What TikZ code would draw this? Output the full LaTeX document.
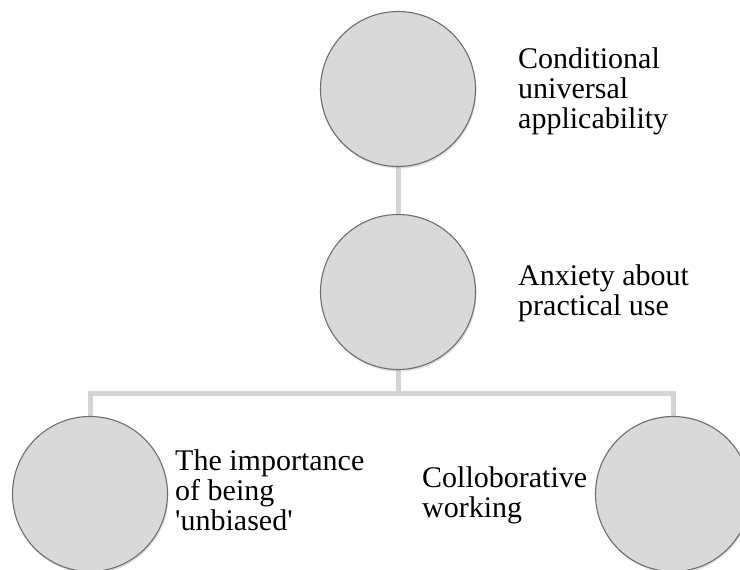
\documentclass[tikz,border=0pt]{standalone}
\usepackage{fontspec}
\setmainfont{Liberation Serif}[Ligatures=TeXOff]
\usetikzlibrary{shadows,backgrounds}
\definecolor{bubblefill}{HTML}{D9D9D9}
\definecolor{bubbleline}{HTML}{6E6E6E}
\definecolor{linkgray}{HTML}{D4D4D4}
\begin{document}
\begin{tikzpicture}[x=1pt,y=-1pt,
  bubble/.style={circle, minimum size=155pt, inner sep=0pt, fill=bubblefill,
    draw=bubbleline, line width=1.1pt,
    drop shadow={opacity=0.25, shadow xshift=1pt, shadow yshift=-2pt}},
  label/.style={font=\fontsize{30}{30}\selectfont, align=left, inner sep=0pt, anchor=base west},
  link/.style={draw=linkgray, line width=5pt}]
\clip (0,0) rectangle (740,570);
\coordinate (bar) at (398,393);
\node[bubble] (top) at (398,89) {};
\node[bubble] (mid) at (398,292) {};
\node[bubble] (left) at (90,494) {};
\node[bubble] (right) at (673,494) {};
\begin{pgfonlayer}{background}
  \fill[white] (0,0) rectangle (740,570);
  \path[link] (top.south) -- (mid.north);
  \path[link] (mid.south) -- (bar);
  \path[link] (left.north) -- (left.north |- bar) -- (right.north |- bar) -- (right.north);
\end{pgfonlayer}
\node[label] (ttop) at (518,128) {Conditional\\universal\\applicability};
\node[label] (tmid) at (518,315) {Anxiety about\\practical use};
\node[label] (tleft) at (175,530) {The importance\\of being\\'unbiased'};
\node[label] (tright) at (422,517) {Colloborative\\working};
\end{tikzpicture}
\end{document}
